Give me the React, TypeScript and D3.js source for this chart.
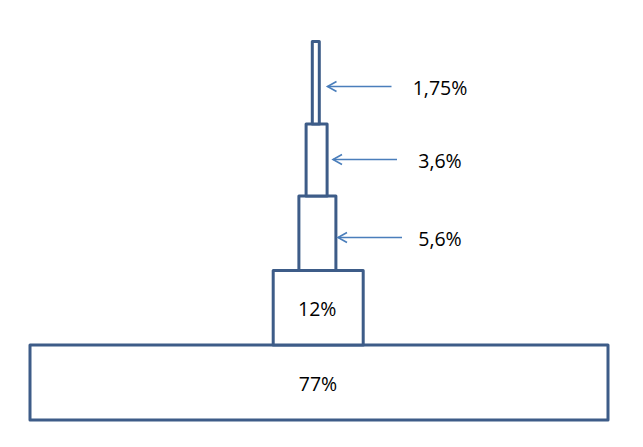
import React from "react";
import * as d3 from "d3";

const levels = ["77%", "12%", "5,6%", "3,6%", "1,75%"];
const values = [77, 12, 5.6, 3.6, 1.75];
const insideLabel = [true, true, false, false, false];

const W = 643;
const H = 447;

export default function App() {
  // width scale (hand-drawn proportions, piecewise)
  const wScale = d3
    .scaleLinear()
    .domain([1.75, 3.6, 5.6, 12, 77])
    .range([7, 21, 37, 90, 578]);
  // level -> y boundary
  const yScale = d3
    .scaleLinear()
    .domain([0, 1, 2, 3, 4, 5])
    .range([420, 345, 270.5, 196, 124, 41.5]);
  const cx = d3
    .scaleLinear()
    .domain([0, 4])
    .range([319, 315.8]);
  // callout arrows: level -> y, level -> tip x
  const arrowY = d3.scaleLinear().domain([2, 3, 4]).range([237.5, 159.5, 86.5]);
  const arrowTip = d3.scaleLinear().domain([2, 3, 4]).range([338, 333, 327.5]);

  const stroke = "#3D5C88";
  const arrowColor = "#4A7EBB";
  const font = "'Open Sans', 'Liberation Sans', sans-serif";
  const fs = 19.5;

  return (
    <svg
      width={W}
      height={H}
      style={{ position: "absolute", left: 0, top: 0, background: "#fff" }}
    >
      {values.map((v, i) => {
        const w = wScale(v);
        const y0 = yScale(i + 1);
        const y1 = yScale(i);
        const c = cx(i);
        return (
          <rect
            key={levels[i]}
            x={c - w / 2}
            y={y0}
            width={w}
            height={y1 - y0}
            fill="#fff"
            stroke={stroke}
            strokeWidth={3}
            strokeLinejoin="round"
          />
        );
      })}
      {values.map((v, i) => {
        const y0 = yScale(i + 1);
        const y1 = yScale(i);
        const ym = (y0 + y1) / 2;
        if (insideLabel[i]) {
          return (
            <text
              key={"t" + i}
              x={cx(i) - 1}
              y={ym + 1}
              textAnchor="middle"
              dominantBaseline="central"
              fontFamily={font}
              fontSize={fs}
              fill="#000"
            >
              {levels[i]}
            </text>
          );
        }
        const tipX = arrowTip(i);
        const tailX = tipX + 64;
        const ay = arrowY(i);
        return (
          <g key={"a" + i}>
            <line
              x1={tailX}
              y1={ay}
              x2={tipX}
              y2={ay}
              stroke={arrowColor}
              strokeWidth={1.6}
            />
            <path
              d={`M${tipX + 9},${ay - 5} L${tipX},${ay} L${tipX + 9},${ay + 5}`}
              fill="none"
              stroke={arrowColor}
              strokeWidth={1.6}
            />
            <text
              x={440}
              y={ay + 0.5}
              textAnchor="middle"
              dominantBaseline="central"
              fontFamily={font}
              fontSize={fs}
              fill="#000"
            >
              {levels[i]}
            </text>
          </g>
        );
      })}
    </svg>
  );
}
